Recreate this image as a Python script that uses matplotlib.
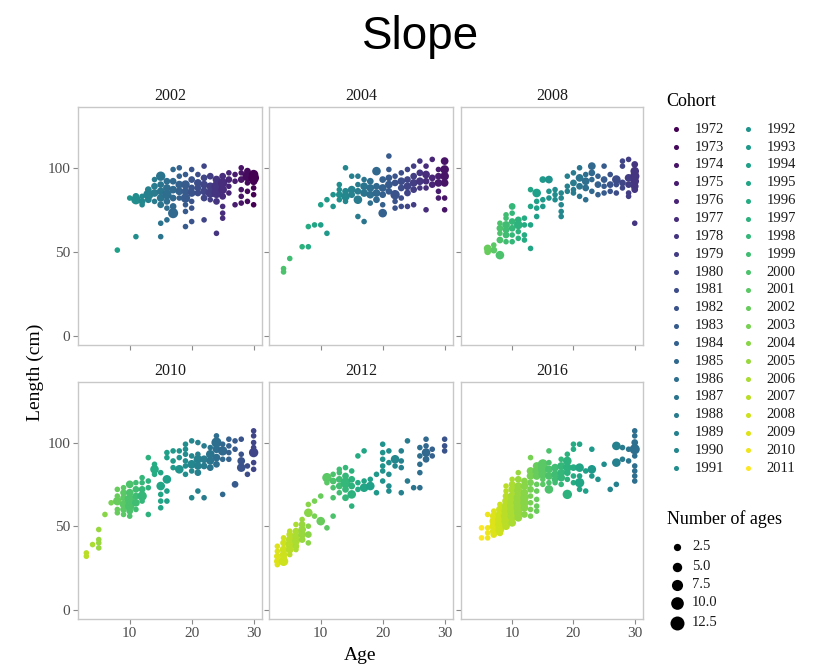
import numpy as np
import matplotlib
matplotlib.use("Agg")
import matplotlib.pyplot as plt

# survey years (one facet each) and cohort levels for the colour scale
years = [2002, 2004, 2008, 2010, 2012, 2016]
cohorts = list(range(1972, 2012))
size_breaks = [2.5, 5.0, 7.5, 10.0, 12.5]

# (age, length cm, number of ages)
pts_2002 = [
    (8, 51, 1), (10, 82, 1), (11, 59, 1), (11, 81, 5), (11, 83, 2),
    (12, 80, 2), (12, 83, 1), (12, 78, 1), (13, 84, 6), (13, 87, 2), (13, 81, 2),
    (14, 85, 3), (14, 80, 1), (14, 89, 2), (14, 93, 1),
    (15, 95, 5), (15, 90, 2), (15, 86, 3), (15, 82, 3), (15, 78, 2), (15, 67, 1), (15, 59, 1),
    (16, 92, 2), (16, 88, 3), (16, 84, 5), (16, 80, 2), (16, 76, 1), (16, 69, 1),
    (17, 99, 1), (17, 92, 2), (17, 87, 3), (17, 82, 2), (17, 73, 6), (17, 77, 2),
    (18, 100, 1), (18, 95, 1), (18, 90, 3), (18, 86, 3), (18, 82, 1),
    (19, 96, 1), (19, 90, 4), (19, 86, 3), (19, 82, 5), (19, 78, 1), (19, 74, 1), (19, 65, 1),
    (20, 99, 1), (20, 93, 2), (20, 88, 2), (20, 85, 3), (20, 80, 1), (20, 76, 1), (20, 68, 1),
    (21, 96, 1), (21, 91, 3), (21, 88, 2), (21, 85, 2),
    (22, 101, 1), (22, 94, 2), (22, 90, 3), (22, 86, 3), (22, 82, 2), (22, 69, 1),
    (23, 95, 2), (23, 89, 3), (23, 85, 5), (23, 81, 1),
    (24, 93, 3), (24, 89, 6), (24, 85, 6), (24, 80, 2), (24, 61, 1),
    (25, 95, 2), (25, 91, 5), (25, 87, 4), (25, 83, 2), (25, 77, 1), (25, 73, 1), (25, 70, 1),
    (26, 97, 1), (26, 93, 2), (26, 89, 1), (26, 85, 1),
    (27, 96, 1), (27, 92, 1), (27, 78, 1),
    (28, 100, 1), (28, 97, 1), (28, 93, 2), (28, 87, 1), (28, 83, 1), (28, 79, 1),
    (29, 98, 2), (29, 95, 6), (29, 91, 1), (29, 86, 1), (29, 80, 1),
    (30, 96, 5), (30, 94, 7), (30, 92, 3), (30, 88, 1), (30, 84, 1), (30, 78, 1),
]
pts_2004 = [
    (4, 38, 1), (4, 40, 1), (5, 46, 1), (7, 53, 1), (8, 53, 1),
    (8, 65, 1), (9, 66, 1), (10, 66, 1), (11, 61, 1), (10, 78, 1), (11, 81, 1),
    (12, 84, 1), (12, 77, 1), (13, 90, 1), (13, 87, 1), (13, 84, 2), (13, 81, 1),
    (14, 100, 1), (14, 83, 4), (14, 86, 2), (14, 80, 1),
    (15, 95, 1), (15, 87, 3), (15, 84, 2),
    (16, 95, 1), (16, 81, 4), (16, 71, 1), (16, 86, 2), (16, 90, 1),
    (17, 93, 1), (17, 89, 3), (17, 85, 3), (17, 68, 1),
    (18, 92, 2), (18, 88, 3), (18, 84, 3), (18, 79, 1),
    (19, 98, 4), (19, 89, 2), (19, 85, 3), (19, 81, 2),
    (20, 73, 4), (20, 93, 2), (20, 88, 3), (20, 84, 2), (20, 78, 1),
    (21, 107, 1), (21, 99, 1), (21, 94, 2), (21, 90, 3), (21, 86, 2),
    (22, 84, 5), (22, 95, 1), (22, 91, 2), (22, 80, 1), (22, 76, 1),
    (23, 97, 1), (23, 92, 3), (23, 88, 2), (23, 82, 1), (23, 77, 1),
    (24, 99, 1), (24, 93, 2), (24, 89, 3), (24, 85, 2), (24, 77, 1),
    (25, 101, 1), (25, 95, 2), (25, 91, 3), (25, 87, 2), (25, 78, 1),
    (26, 104, 1), (26, 97, 2), (26, 92, 3), (26, 88, 1),
    (27, 101, 1), (27, 96, 3), (27, 92, 2), (27, 88, 1), (27, 75, 1),
    (28, 105, 1), (28, 94, 2), (28, 90, 2),
    (29, 99, 1), (29, 95, 2), (29, 91, 3), (29, 86, 1), (29, 82, 1),
    (30, 104, 3), (30, 99, 4), (30, 95, 4), (30, 91, 3), (30, 82, 1), (30, 75, 1),
]
pts_2008 = [
    (6, 50, 2), (6, 52, 3), (7, 51, 2), (7, 54, 1),
    (8, 48, 4), (8, 57, 2), (8, 61, 1), (8, 64, 2), (8, 67, 1),
    (9, 56, 1), (9, 60, 2), (9, 63, 2), (9, 66, 3), (9, 70, 1), (9, 72, 1),
    (10, 77, 2), (10, 73, 1), (10, 68, 2), (10, 64, 2), (10, 60, 1), (10, 56, 1),
    (11, 66, 4), (11, 62, 1), (11, 69, 2), (11, 58, 1),
    (12, 57, 1), (12, 60, 1), (12, 66, 1), (12, 70, 1),
    (13, 52, 1), (13, 66, 1), (13, 77, 1), (13, 87, 1),
    (14, 85, 4), (14, 76, 1), (14, 71, 1), (14, 80, 1),
    (15, 93, 2), (15, 81, 1), (15, 77, 1),
    (16, 93, 3), (16, 82, 1), (16, 86, 1),
    (17, 81, 1), (17, 84, 1), (17, 87, 1),
    (18, 71, 1), (18, 74, 1), (18, 78, 1), (18, 82, 1), (18, 85, 1),
    (19, 95, 1), (19, 89, 1), (19, 86, 1),
    (20, 97, 1), (20, 91, 2), (20, 87, 1), (20, 85, 1),
    (21, 100, 1), (21, 94, 3), (21, 89, 2), (21, 83, 1),
    (22, 96, 1), (22, 92, 3), (22, 81, 1), (22, 88, 2),
    (23, 101, 3), (23, 97, 2), (23, 93, 1), (23, 86, 1),
    (24, 95, 1), (24, 90, 2), (24, 84, 1),
    (25, 101, 1), (25, 93, 2), (25, 89, 1), (25, 85, 1),
    (26, 96, 1), (26, 90, 2), (26, 86, 1),
    (27, 93, 4), (27, 85, 1), (27, 90, 1),
    (28, 104, 1), (28, 101, 1), (28, 91, 2), (28, 88, 1),
    (29, 105, 1), (29, 94, 3), (29, 90, 2), (29, 85, 1), (29, 83, 1),
    (30, 102, 2), (30, 98, 4), (30, 95, 5), (30, 92, 4), (30, 89, 3), (30, 87, 2), (30, 67, 1),
]
pts_2010 = [
    (3, 32, 1), (3, 34, 1), (4, 39, 1),
    (5, 37, 1), (5, 40, 1), (5, 42, 1), (5, 48, 1), (6, 57, 1), (7, 64, 1),
    (8, 65, 4), (8, 72, 1), (8, 60, 1), (8, 58, 1), (8, 68, 1),
    (9, 60, 2), (9, 63, 3), (9, 67, 2), (9, 70, 2), (9, 73, 1), (9, 57, 1),
    (10, 62, 5), (10, 66, 6), (10, 70, 3), (10, 75, 3), (10, 56, 1), (10, 59, 2),
    (11, 64, 3), (11, 68, 2), (11, 72, 2), (11, 76, 1), (11, 60, 1),
    (12, 68, 5), (12, 72, 2), (12, 76, 1), (12, 65, 1), (12, 79, 1),
    (13, 73, 1), (13, 77, 1), (13, 91, 1), (13, 57, 1),
    (14, 84, 4), (14, 87, 1), (14, 81, 1),
    (15, 74, 4), (15, 69, 1), (15, 65, 1), (15, 61, 1), (15, 82, 1),
    (16, 78, 4), (16, 91, 1), (16, 94, 1), (16, 65, 1), (16, 71, 1),
    (17, 85, 1), (17, 89, 1), (17, 95, 1),
    (18, 84, 4), (18, 91, 1), (18, 95, 1),
    (19, 81, 1), (19, 86, 1), (19, 89, 1), (19, 93, 1), (19, 96, 1), (19, 99, 1),
    (20, 101, 1), (20, 87, 4), (20, 67, 1), (20, 83, 1), (20, 92, 1),
    (21, 90, 4), (21, 86, 3), (21, 82, 2), (21, 93, 1), (21, 71, 1), (21, 100, 1),
    (22, 90, 3), (22, 86, 2), (22, 67, 1), (22, 98, 1),
    (23, 93, 4), (23, 89, 3), (23, 85, 2), (23, 97, 1),
    (24, 100, 6), (24, 96, 3), (24, 91, 3), (24, 87, 2), (24, 104, 1),
    (25, 95, 5), (25, 99, 1), (25, 69, 1), (25, 90, 1),
    (26, 102, 1), (26, 98, 1), (26, 94, 1), (26, 90, 1),
    (27, 75, 2), (27, 96, 1), (27, 101, 1),
    (28, 102, 1), (28, 89, 3), (28, 85, 4), (28, 93, 1),
    (29, 81, 1), (29, 86, 1),
    (30, 107, 1), (30, 104, 1), (30, 100, 1), (30, 97, 1), (30, 94, 5), (30, 88, 1), (30, 84, 1),
]
pts_2012 = [
    (3, 27, 1), (3, 29, 2), (3, 32, 2), (3, 35, 1), (3, 38, 1),
    (4, 29, 5), (4, 33, 3), (4, 36, 3), (4, 40, 2), (4, 43, 1), (4, 31, 2),
    (5, 33, 1), (5, 36, 3), (5, 39, 4), (5, 42, 3), (5, 45, 2), (5, 47, 1),
    (6, 38, 2), (6, 41, 3), (6, 44, 3), (6, 47, 2), (6, 51, 1), (6, 36, 1),
    (7, 42, 2), (7, 45, 3), (7, 48, 3), (7, 51, 2), (7, 54, 1),
    (8, 58, 4), (8, 45, 2), (8, 50, 1), (8, 63, 1), (8, 40, 1),
    (9, 65, 1), (9, 56, 1), (10, 53, 4), (10, 68, 1),
    (11, 79, 5), (11, 49, 1), (11, 76, 1),
    (12, 73, 1), (12, 77, 2), (12, 67, 1), (12, 56, 1), (12, 81, 1),
    (13, 70, 1), (13, 74, 2), (13, 78, 2), (13, 82, 1), (13, 84, 1),
    (14, 76, 6), (14, 67, 2), (14, 72, 2), (14, 80, 2), (14, 85, 1),
    (15, 69, 4), (15, 62, 1), (15, 74, 2), (15, 78, 2), (15, 83, 1),
    (16, 92, 1), (16, 76, 1), (16, 72, 1),
    (17, 73, 4), (17, 95, 1), (17, 77, 1), (18, 74, 4), (18, 78, 1),
    (19, 81, 1), (19, 70, 1),
    (20, 99, 1), (20, 94, 1), (20, 90, 1), (20, 86, 1), (20, 77, 1), (20, 83, 1),
    (21, 95, 1), (21, 88, 1), (21, 81, 1), (21, 71, 1), (21, 74, 1),
    (22, 90, 4), (22, 86, 1),
    (23, 85, 1), (23, 89, 1), (23, 95, 1), (23, 70, 1),
    (24, 101, 1), (24, 77, 1), (25, 73, 1),
    (26, 97, 1), (26, 92, 1), (26, 87, 1), (26, 82, 1), (26, 73, 1),
    (27, 94, 4), (27, 90, 2), (27, 98, 1), (27, 102, 1),
    (28, 96, 1), (28, 92, 1),
    (30, 102, 1), (30, 98, 1), (30, 95, 1),
]
pts_2016 = [
    (5, 43, 1), (5, 49, 1), (6, 43, 1), (6, 46, 1), (6, 49, 1), (6, 57, 1),
    (7, 47, 3), (7, 50, 4), (7, 53, 4), (7, 56, 3), (7, 59, 1), (7, 45, 2),
    (8, 48, 4), (8, 51, 5), (8, 54, 5), (8, 57, 4), (8, 60, 3), (8, 63, 1), (8, 46, 2),
    (9, 50, 3), (9, 53, 5), (9, 56, 6), (9, 59, 5), (9, 62, 4), (9, 65, 3), (9, 68, 2), (9, 71, 1), (9, 74, 1),
    (10, 52, 3), (10, 56, 5), (10, 59, 6), (10, 62, 6), (10, 65, 5), (10, 68, 4), (10, 72, 3), (10, 75, 2), (10, 78, 1),
    (11, 55, 3), (11, 58, 4), (11, 61, 5), (11, 64, 6), (11, 67, 5), (11, 71, 4), (11, 74, 3), (11, 78, 2), (11, 82, 1),
    (12, 57, 2), (12, 61, 3), (12, 64, 4), (12, 67, 4), (12, 70, 3), (12, 74, 3), (12, 77, 2),
    (13, 56, 1), (13, 60, 1), (13, 64, 1), (13, 68, 1), (13, 72, 2), (13, 76, 2), (13, 80, 3), (13, 83, 3), (13, 91, 1),
    (14, 83, 4), (14, 86, 3), (14, 80, 3), (14, 75, 1), (14, 71, 1), (14, 66, 1), (14, 62, 1), (14, 59, 1),
    (15, 87, 6), (15, 84, 5), (15, 81, 4), (15, 78, 1), (15, 75, 1),
    (16, 95, 1), (16, 84, 3), (16, 80, 3), (16, 72, 4), (16, 76, 1), (16, 88, 1),
    (17, 85, 3), (17, 81, 3), (17, 78, 2), (17, 76, 1),
    (18, 86, 3), (18, 82, 3), (18, 79, 3), (18, 90, 1), (18, 75, 1),
    (19, 89, 4), (19, 85, 4), (19, 82, 2), (19, 78, 1), (19, 69, 5), (19, 93, 1),
    (20, 99, 1), (20, 96, 1), (20, 85, 2), (20, 80, 1), (20, 76, 1),
    (21, 99, 1), (21, 85, 4), (21, 76, 5), (21, 72, 1), (21, 80, 1),
    (22, 71, 1), (22, 83, 1), (23, 96, 1), (23, 84, 4), (23, 80, 1),
    (24, 78, 1), (25, 87, 1), (26, 72, 1),
    (27, 98, 4), (27, 88, 4), (27, 75, 1), (28, 97, 1), (28, 90, 1),
    (29, 89, 1), (29, 96, 1),
    (30, 107, 1), (30, 104, 1), (30, 100, 2), (30, 96, 6), (30, 92, 1), (30, 86, 1),
    (30, 83, 1), (30, 80, 1), (30, 77, 1),
]
panels = [pts_2002, pts_2004, pts_2008, pts_2010, pts_2012, pts_2016]

W, H = 813, 667
SERIF = ["Liberation Serif", "DejaVu Serif"]
cohort_colors = plt.get_cmap("viridis")(np.linspace(0, 1, len(cohorts)))


def px_rect(x0, y0, x1, y1):
    return [x0 / W, 1 - y1 / H, (x1 - x0) / W, (y1 - y0) / H]


def marker_area(n):
    # area grows with the count, like ggplot's scale_size; diameter in px -> pt^2
    d = np.sqrt(17 + 14.3 * np.asarray(n, float))
    return (d * 72 / 100) ** 2


fig = plt.figure(figsize=(W / 100, H / 100), dpi=100)
fig.text(0.517, 0.978, "Slope", ha="center", va="top", fontsize=33,
         family=["Liberation Sans Narrow", "Liberation Sans", "DejaVu Sans"])

col_x = [(78, 262), (269, 453), (461, 643)]
row_y = [(107, 345), (382, 619)]

for i, (year, pts) in enumerate(zip(years, panels)):
    r, c = divmod(i, 3)
    ax = fig.add_axes(px_rect(col_x[c][0], row_y[r][0], col_x[c][1], row_y[r][1]))
    arr = np.array(pts, dtype=float)
    age, length, n = arr[:, 0], arr[:, 1], arr[:, 2]
    cidx = (year - age).astype(int) - cohorts[0]
    ax.scatter(age, length, s=marker_area(n), c=cohort_colors[cidx],
               linewidths=0, zorder=3)
    ax.set_xlim(1.65, 31.35)
    ax.set_ylim(-5.5, 136.2)
    ax.set_xticks([10, 20, 30])
    ax.set_yticks([0, 50, 100])
    for sp in ax.spines.values():
        sp.set_color("#c8c8c8")
        sp.set_linewidth(1.0)
    ax.tick_params(direction="out", length=3.5, width=0.8, color="#8a8a8a",
                   labelcolor="#4d4d4d", labelsize=11, pad=2)
    for lab in ax.get_xticklabels() + ax.get_yticklabels():
        lab.set_family(SERIF)
    if r == 0:
        ax.tick_params(axis="x", labelbottom=False)
    if c != 0:
        ax.tick_params(axis="y", labelleft=False)
    ax.set_title(str(year), family=SERIF, fontsize=11.5, color="#1a1a1a", pad=5)

fig.text(35 / W, 1 - 372 / H, "Length (cm)", rotation=90, ha="center", va="center",
         family=SERIF, fontsize=14)
fig.text(360 / W, 1 - 656 / H, "Age", ha="center", va="center",
         family=SERIF, fontsize=14)

# legends drawn in a pixel-space overlay
lg = fig.add_axes([0, 0, 1, 1], zorder=-1)
lg.set_xlim(0, W)
lg.set_ylim(H, 0)
lg.axis("off")

lg.text(666, 101, "Cohort", ha="left", va="center", family=SERIF, fontsize=13)
for k, coh in enumerate(cohorts):
    col, row = divmod(k, 20)
    y = 129.3 + row * 17.84
    lg.scatter(676 + col * 71.5, y, s=marker_area(0.6), color=cohort_colors[k],
               linewidths=0)
    lg.text(695 + col * 71.5, y, str(coh), ha="left", va="center",
            family=SERIF, fontsize=10.5, color="#1a1a1a")

lg.text(667, 519, "Number of ages", ha="left", va="center", family=SERIF, fontsize=13)
for k, b in enumerate(size_breaks):
    y = [547, 567, 585, 603, 623][k]
    lg.scatter(677, y, s=marker_area(b), color="black", linewidths=0)
    lg.text(692, y, f"{b:.1f}", ha="left", va="center", family=SERIF,
            fontsize=10.5, color="#1a1a1a")

fig.savefig("out.png", dpi=100)
